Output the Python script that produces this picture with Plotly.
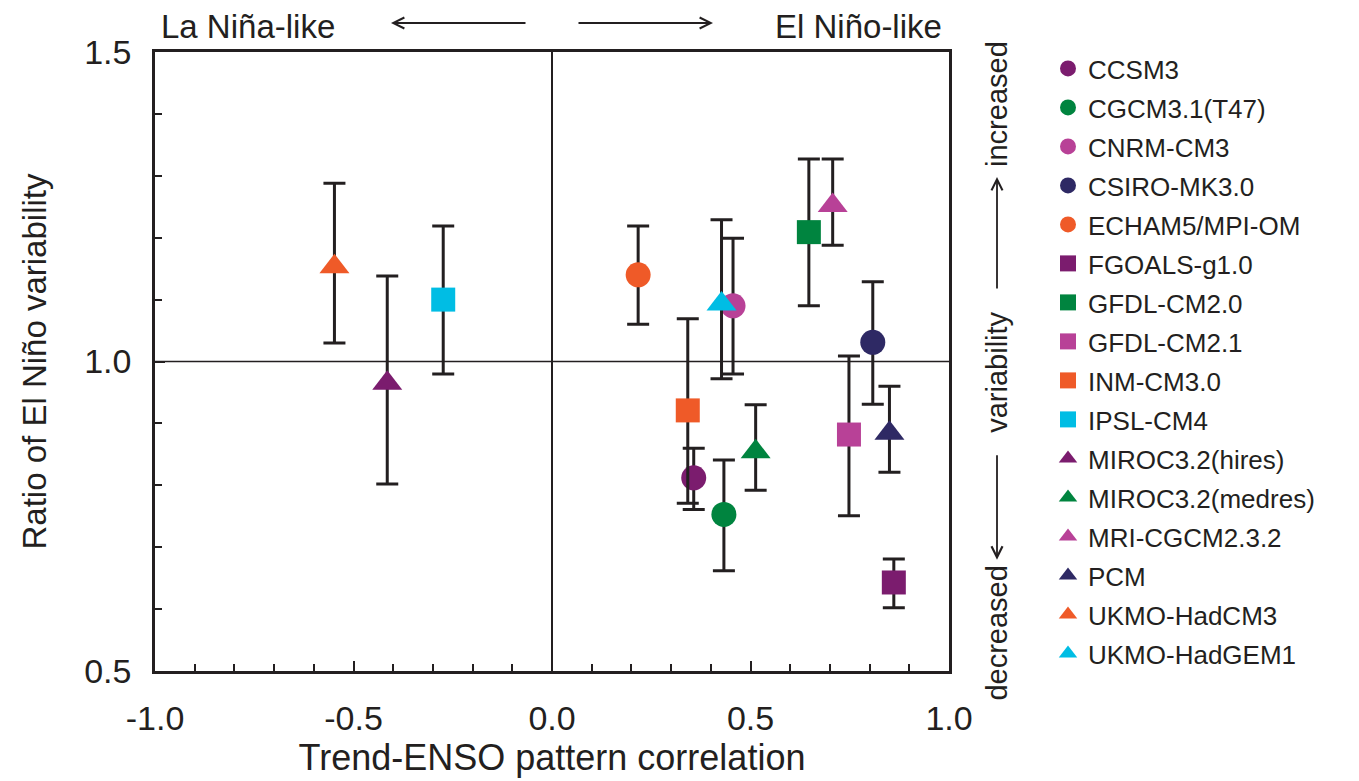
import plotly.graph_objects as go

# ---------------- data ----------------
models = ["CCSM3", "CGCM3.1(T47)", "CNRM-CM3", "CSIRO-MK3.0", "ECHAM5/MPI-OM",
          "FGOALS-g1.0", "GFDL-CM2.0", "GFDL-CM2.1", "INM-CM3.0", "IPSL-CM4",
          "MIROC3.2(hires)", "MIROC3.2(medres)", "MRI-CGCM2.3.2", "PCM",
          "UKMO-HadCM3", "UKMO-HadGEM1"]
trend_enso_corr = [0.357, 0.433, 0.456, 0.808, 0.217, 0.861, 0.647, 0.748,
                   0.342, -0.274, -0.415, 0.513, 0.707, 0.850, -0.548, 0.427]
nino_ratio = [0.812, 0.753, 1.090, 1.031, 1.140, 0.643, 1.209, 0.882,
              0.921, 1.100, 0.965, 0.854, 1.252, 0.884, 1.153, 1.093]
err_plus = [0.048, 0.088, 0.109, 0.098, 0.079, 0.038, 0.118, 0.127,
            0.148, 0.119, 0.173, 0.076, 0.075, 0.076, 0.135, 0.136]
err_minus = [0.051, 0.091, 0.110, 0.100, 0.080, 0.041, 0.119, 0.131,
             0.150, 0.120, 0.163, 0.062, 0.064, 0.063, 0.123, 0.121]
x_tick_vals = [-1.0, -0.5, 0.0, 0.5, 1.0]
x_tick_text = ["-1.0", "-0.5", "0.0", "0.5", "1.0"]
y_tick_vals = [0.5, 1.0, 1.5]
y_tick_text = ["0.5", "1.0", "1.5"]

# ---------------- styles ----------------
PURPLE, GREEN, PINK, NAVY, ORANGE, CYAN = ("#7B1C6E", "#00843F", "#B84197",
                                           "#2E2964", "#EF5A28", "#00BDE4")
colors = [PURPLE, GREEN, PINK, NAVY, ORANGE,
          PURPLE, GREEN, PINK, ORANGE, CYAN,
          PURPLE, GREEN, PINK, NAVY, ORANGE, CYAN]
symbols = ["circle"] * 5 + ["square"] * 5 + ["triangle-up"] * 6
sizes = [25] * 5 + [24] * 5 + [26] * 6
INK = "#231F20"
FONT = "Liberation Sans, Arial, Helvetica, sans-serif"

fig = go.Figure()
for i, m in enumerate(models):
    fig.add_trace(go.Scatter(
        x=[trend_enso_corr[i]], y=[nino_ratio[i]], mode="markers", name=m,
        legendgroup=m,
        marker=dict(symbol=symbols[i], color=colors[i], size=sizes[i], line=dict(width=0)),
        error_y=dict(type="data", symmetric=False, array=[err_plus[i]],
                     arrayminus=[err_minus[i]], color=INK, thickness=3, width=11),
    ))

fig.add_hline(y=1.0, line=dict(color=INK, width=1.5), layer="below")

# The page body adds an 8px offset; work in figure coordinates = screen - 8.
OFF = 8
W, H = 1359 - OFF, 781 - OFF
L, R, T, B = 155 - OFF, 949 - OFF, 52 - OFF, 671.4 - OFF


def px(xs):  # screen x -> paper x
    return (xs - OFF - L) / (R - L)


def py(ys):  # screen y -> paper y
    return (B - (ys - OFF)) / (B - T)


fig.update_layout(
    width=W, height=H,
    margin=dict(l=L, r=W - R, t=T, b=H - B, autoexpand=False),
    plot_bgcolor="white", paper_bgcolor="white",
    font=dict(family=FONT, color=INK),
    showlegend=True,
    legend=dict(xref="container", yref="container", x=1040 / W, y=1 - 37 / H,
                xanchor="left", yanchor="top", maxheight=740,
                font=dict(size=26, family=FONT, color=INK), tracegroupgap=2.2,
                bgcolor="rgba(0,0,0,0)", borderwidth=0),
    xaxis=dict(range=[-1, 1], tickvals=x_tick_vals, ticktext=x_tick_text,
               ticks="inside", ticklen=10, tickwidth=2, tickcolor=INK,
               minor=dict(dtick=0.1, ticks="inside", ticklen=7, tickwidth=1.5, tickcolor=INK),
               showline=True, linewidth=2.5, linecolor=INK, mirror=True,
               zeroline=True, zerolinecolor=INK, zerolinewidth=1.5, showgrid=False,
               tickfont=dict(size=34), ticklabelstandoff=15, automargin=False,
               title=dict(text="Trend-ENSO pattern correlation", font=dict(size=36), standoff=9)),
    yaxis=dict(range=[0.5, 1.5], tickvals=y_tick_vals, ticktext=y_tick_text,
               ticks="inside", ticklen=10, tickwidth=2, tickcolor=INK,
               minor=dict(dtick=0.1, ticks="inside", ticklen=7, tickwidth=1.5, tickcolor=INK),
               showline=True, linewidth=2.5, linecolor=INK, mirror=True,
               zeroline=False, showgrid=False, automargin=False,
               tickfont=dict(size=34), ticklabelstandoff=14,
               title=dict(text="Ratio of El Niño variability", font=dict(size=33), standoff=28)),
)

ARR = dict(showarrow=True, text="", arrowhead=5, arrowsize=1.2, arrowwidth=1.8,
           arrowcolor=INK, font=dict(size=1), xref="paper", yref="paper")
ann = []
# top labels
ann.append(dict(xref="paper", yref="paper", x=px(159), y=py(26), text="La Niña-like",
                showarrow=False, xanchor="left", yanchor="middle", font=dict(size=33)))
ann.append(dict(xref="paper", yref="paper", x=px(944), y=py(26), text="El Niño-like",
                showarrow=False, xanchor="right", yanchor="middle", font=dict(size=33)))
ann.append(dict(ARR, x=px(391), y=py(23), ax=136, ay=0))
ann.append(dict(ARR, x=px(713), y=py(23), ax=-136, ay=0))
# right-side vertical labels
for word, yc in [("increased", 104), ("variability", 372), ("decreased", 633)]:
    ann.append(dict(xref="paper", yref="paper", x=px(997), y=py(yc), text=word,
                    textangle=-90, showarrow=False, xanchor="center", yanchor="middle",
                    font=dict(size=29)))
ann.append(dict(ARR, x=px(997), y=py(177), ax=0, ay=113))
ann.append(dict(ARR, x=px(997), y=py(560), ax=0, ay=-106))
fig.update_layout(annotations=ann)

fig.write_html("out.html")
